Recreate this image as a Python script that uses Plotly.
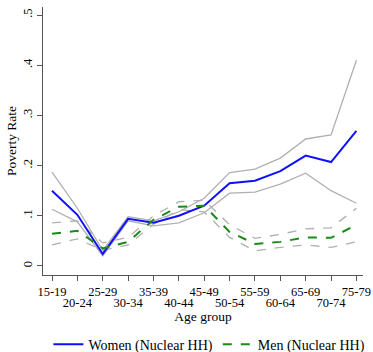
import plotly.graph_objects as go

# Age groups on the x axis
age_groups = ["15-19", "20-24", "25-29", "30-34", "35-39", "40-44", "45-49",
              "50-54", "55-59", "60-64", "65-69", "70-74", "75-79"]

# Poverty rate, women in nuclear households, with confidence bounds
women = [0.150, 0.102, 0.024, 0.094, 0.086, 0.100, 0.120,
         0.165, 0.170, 0.189, 0.220, 0.207, 0.269]
women_hi = [0.187, 0.115, 0.031, 0.098, 0.090, 0.108, 0.135,
            0.186, 0.193, 0.215, 0.253, 0.261, 0.410]
women_lo = [0.113, 0.088, 0.020, 0.090, 0.080, 0.086, 0.106,
            0.145, 0.147, 0.163, 0.185, 0.150, 0.125]

# Poverty rate, men in nuclear households, with confidence bounds
men = [0.064, 0.070, 0.035, 0.048, 0.092, 0.118, 0.120,
       0.068, 0.044, 0.048, 0.057, 0.056, 0.082]
men_hi = [0.086, 0.090, 0.046, 0.057, 0.100, 0.128, 0.131,
          0.082, 0.055, 0.063, 0.074, 0.076, 0.115]
men_lo = [0.042, 0.054, 0.031, 0.042, 0.083, 0.112, 0.108,
          0.057, 0.030, 0.037, 0.042, 0.037, 0.048]

# Y-axis tick labels
y_vals = [0, 0.1, 0.2, 0.3, 0.4, 0.5]
y_text = ["0", ".1", ".2", ".3", ".4", ".5"]

x = list(range(len(age_groups)))
# tick labels alternate between two rows: even groups on the main axis,
# odd groups on an overlaid axis pushed one row down
x_even = [g if i % 2 == 0 else "" for i, g in enumerate(age_groups)]
x_odd_vals = [i for i in x if i % 2 == 1]
x_odd_text = [age_groups[i] for i in x_odd_vals]

ci_grey = "#b0b0b0"
fig = go.Figure()

for series, dash in [(women_hi, "solid"), (women_lo, "solid"),
                     (men_hi, "dash"), (men_lo, "dash")]:
    fig.add_trace(go.Scatter(x=x, y=series, mode="lines", showlegend=False,
                             hoverinfo="skip",
                             line=dict(color=ci_grey, width=1.3, dash=dash)))

fig.add_trace(go.Scatter(x=x, y=women, mode="lines", name="Women (Nuclear HH)",
                         line=dict(color="#1010ff", width=2)))
fig.add_trace(go.Scatter(x=x, y=men, mode="lines", name="Men (Nuclear HH)",
                         line=dict(color="#1a8a1a", width=2, dash="dash")))
# empty trace so the second-row label axis gets drawn
fig.add_trace(go.Scatter(x=[], y=[], xaxis="x2", yaxis="y", mode="lines",
                         showlegend=False, hoverinfo="skip"))

axis_color = "#555555"
font_family = "Liberation Serif, Times New Roman, serif"
x_range = [-0.355, 12.26]

fig.update_layout(
    width=373, height=352,
    margin=dict(l=43, r=10, t=7, b=77, autoexpand=False),
    paper_bgcolor="white", plot_bgcolor="white",
    font=dict(family=font_family, size=13, color="black"),
    xaxis=dict(
        range=x_range, tickvals=x, ticktext=x_even,
        showgrid=False, zeroline=False,
        showline=True, linecolor=axis_color, linewidth=1.2,
        ticks="outside", ticklen=5, tickcolor=axis_color,
        tickangle=0, tickfont=dict(size=12.5),
        title=dict(text="Age group", font=dict(size=13.5), standoff=13),
    ),
    xaxis2=dict(
        range=x_range, tickvals=x_odd_vals, ticktext=x_odd_text,
        overlaying="x", side="bottom", anchor="y",
        showgrid=False, zeroline=False, showline=False,
        ticks="outside", ticklen=5, tickcolor="rgba(0,0,0,0)",
        tickangle=0, tickfont=dict(size=12.5), ticklabelstandoff=11,
    ),
    yaxis=dict(
        range=[-0.018, 0.516], tickvals=y_vals, ticktext=y_text,
        showgrid=False, zeroline=False,
        showline=True, linecolor=axis_color, linewidth=1.2,
        ticks="outside", ticklen=5, tickcolor=axis_color,
        tickangle=-90, tickfont=dict(size=12.5),
        title=dict(text="Poverty Rate", font=dict(size=13.5), standoff=1),
    ),
    legend=dict(
        orientation="h", x=0.52, xanchor="center", y=-0.2, yanchor="top",
        font=dict(size=14), itemwidth=30, tracegroupgap=0,
        bgcolor="rgba(0,0,0,0)",
    ),
)

fig.write_html("out.html")
